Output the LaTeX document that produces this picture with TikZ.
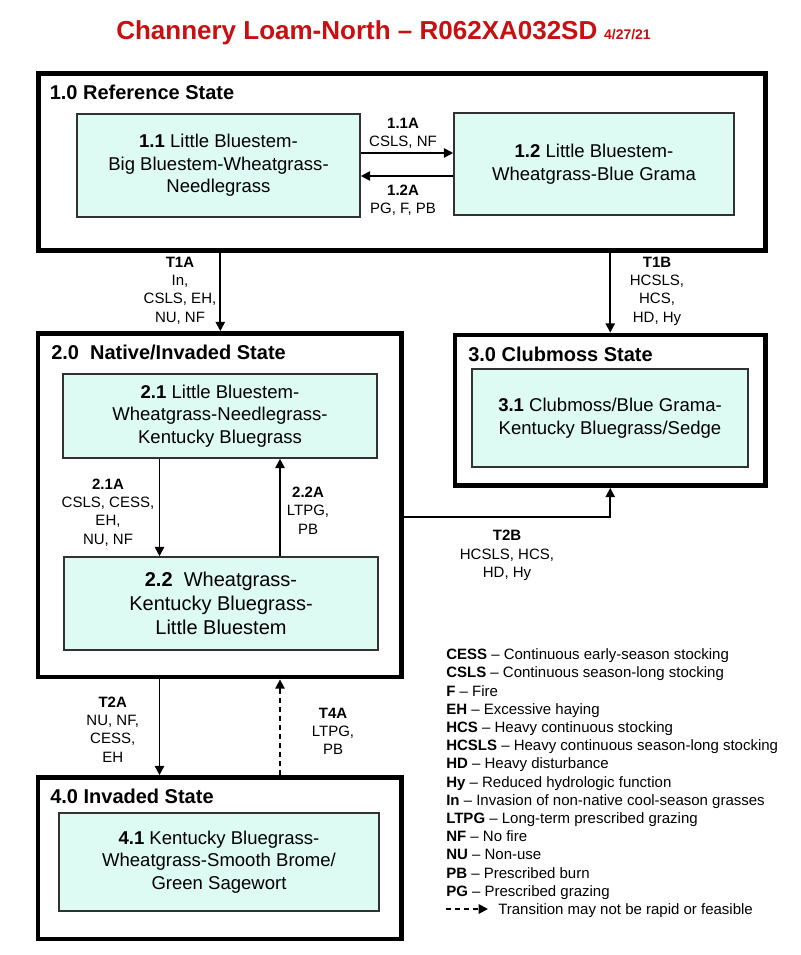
\documentclass[tikz,border=0pt]{standalone}
\usepackage{fontspec}
\setmainfont{Liberation Sans}
\usetikzlibrary{arrows.meta}
\newlength\px \setlength\px{0.75pt}
\definecolor{boxfill}{RGB}{221,250,243}
\definecolor{boxline}{RGB}{50,50,50}
\definecolor{titlered}{RGB}{200,16,16}
\begin{document}
\begin{tikzpicture}[x=0.75pt,y=-0.75pt,
  statebox/.style={draw=black, line width=3.6pt, inner sep=0pt},
  inbox/.style={draw=boxline, fill=boxfill, line width=1.2pt, align=center, inner sep=0pt,
    font=\fontsize{13.9pt}{16.9pt}\selectfont},
  lbl/.style={align=center, inner sep=0pt, font=\fontsize{11.25pt}{13.7pt}\selectfont},
  hdr/.style={anchor=base west, inner sep=0pt, font=\bfseries\fontsize{15pt}{18pt}\selectfont},
  legtext/.style={anchor=base west, inner sep=0pt, font=\fontsize{11.25pt}{13.7pt}\selectfont},
  arr/.style={line width=1.4pt, -{Triangle[length=7pt,width=7pt]}},
  dasharr/.style={arr, dash pattern=on 3.8pt off 3pt}
]
\fill[white] (0,0) rectangle (800,955);
\useasboundingbox (0,0) rectangle (800,955);

% title
\node[anchor=base west, inner sep=0pt, text=titlered, font=\bfseries\fontsize{19.5pt}{24pt}\selectfont] (title) at (116,39.3)
  {Channery Loam-North -- R062XA032SD\hspace{5pt}{\fontsize{10.5pt}{12pt}\selectfont 4/27/21}};

% state boxes
\node[statebox, minimum width=727\px, minimum height=177\px] (st1) at (402,162) {};
\node[statebox, minimum width=363.5\px, minimum height=343.5\px] (st2) at (219.75,505.25) {};
\node[statebox, minimum width=310.5\px, minimum height=150.5\px] (st3) at (610.25,410.25) {};
\node[statebox, minimum width=363.5\px, minimum height=161.5\px] (st4) at (219.75,858.25) {};

% headers
\node[hdr] (h1) at (49.5,99.2) {1.0 Reference State};
\node[hdr] (h2) at (51,359.5) {2.0\ \ Native/Invaded State};
\node[hdr] (h3) at (468,361.2) {3.0 Clubmoss State};
\node[hdr] (h4) at (50,803.2) {4.0 Invaded State};

% community boxes
\node[inbox, minimum width=283\px, minimum height=103\px] (s11) at (218.5,165.5)
  {\textbf{1.1} Little Bluestem-\\Big Bluestem-Wheatgrass-\\Needlegrass};
\node[inbox, minimum width=280\px, minimum height=102\px] (s12) at (594,164)
  {\textbf{1.2} Little Bluestem-\\Wheatgrass-Blue Grama};
\node[inbox, minimum width=314\px, minimum height=84\px] (s21) at (220,416)
  {\textbf{2.1} Little Bluestem-\\Wheatgrass-Needlegrass-\\Kentucky Bluegrass};
\node[inbox, minimum width=314\px, minimum height=93\px, font=\fontsize{15pt}{17.8pt}\selectfont] (s22) at (221,603.5)
  {\textbf{2.2}\ \ Wheatgrass-\\Kentucky Bluegrass-\\Little Bluestem};
\node[inbox, minimum width=276\px, minimum height=98\px] (s31) at (610,418)
  {\textbf{3.1} Clubmoss/Blue Grama-\\Kentucky Bluegrass/Sedge};
\node[inbox, minimum width=320\px, minimum height=98\px] (s41) at (219,862)
  {\textbf{4.1} Kentucky Bluegrass-\\Wheatgrass-Smooth Brome/\\Green Sagewort};

% connectors
\draw[arr] (s11.east |- 0,153) -- (s12.west |- 0,153);
\draw[arr] (s12.west |- 0,176) -- (s11.east |- 0,176);
\draw[arr] (st1.south -| 220.3,0) -- (st2.north -| 220.3,0);
\draw[arr] (st1.south -| 610.25,0) -- (st3.north);
\draw[arr] (s21.south -| 159.5,0) -- (s22.north -| 159.5,0);
\draw[arr] (s22.north -| 280,0) -- (s21.south -| 280,0);
\draw[arr] (st2.east |- 0,517) -| (st3.south);
\draw[arr] (st2.south -| 159.5,0) -- (st4.north -| 159.5,0);
\draw[dasharr] (st4.north -| 280,0) -- (st2.south -| 280,0);

% labels
\node[lbl] (l11a) at (403,133.5) {\textbf{1.1A}\\CSLS, NF};
\node[lbl] (l12a) at (403,200.5) {\textbf{1.2A}\\PG, F, PB};
\node[lbl] (lt1a) at (180,290.5) {\textbf{T1A}\\In,\\CSLS, EH,\\NU, NF};
\node[lbl] (lt1b) at (657,291) {\textbf{T1B}\\HCSLS,\\HCS,\\HD, Hy};
\node[lbl] (l21a) at (108,512.5) {\textbf{2.1A}\\CSLS, CESS,\\EH,\\NU, NF};
\node[lbl] (l22a) at (308,510.5) {\textbf{2.2A}\\LTPG,\\PB};
\node[lbl] (lt2b) at (507,555.5) {\textbf{T2B}\\HCSLS, HCS,\\HD, Hy};
\node[lbl] (lt2a) at (112.7,729.5) {\textbf{T2A}\\NU, NF,\\CESS,\\EH};
\node[lbl] (lt4a) at (333,731.5) {\textbf{T4A}\\LTPG,\\PB};

% legend
\foreach \a/\b [count=\i from 0] in {
  CESS/Continuous early-season stocking,
  CSLS/Continuous season-long stocking,
  F/Fire,
  EH/Excessive haying,
  HCS/Heavy continuous stocking,
  HCSLS/Heavy continuous season-long stocking,
  HD/Heavy disturbance,
  Hy/Reduced hydrologic function,
  In/Invasion of non-native cool-season grasses,
  LTPG/Long-term prescribed grazing,
  NF/No fire,
  NU/Non-use,
  PB/Prescribed burn,
  PG/Prescribed grazing}
  \node[legtext] (leg\i) at (446,659.7+18.2*\i) {\textbf{\a} -- \b};
\coordinate (ls) at (446,909);
\coordinate (le) at (488,909);
\draw[dasharr] (ls) -- (le);
\node[legtext] (legd) at (498,914.4) {Transition may not be rapid or feasible};
\end{tikzpicture}
\end{document}
